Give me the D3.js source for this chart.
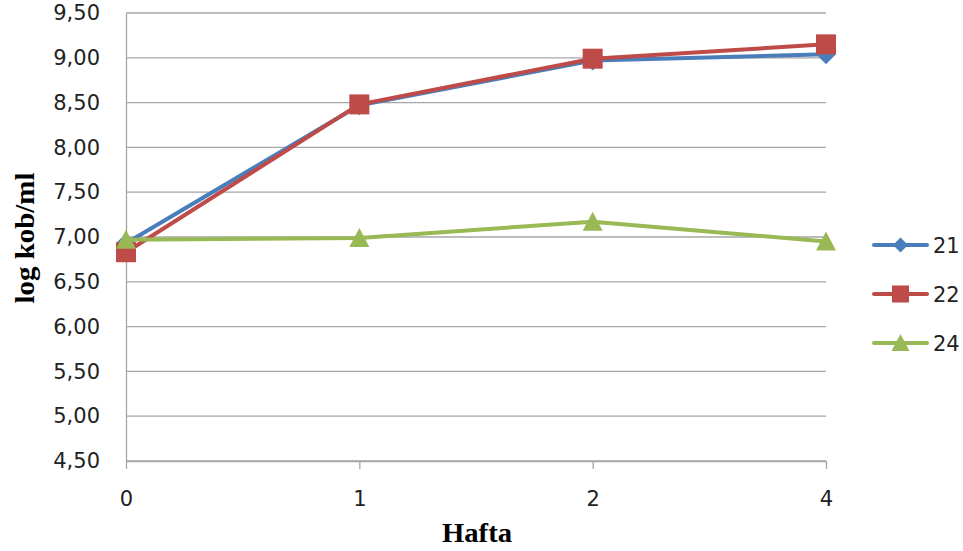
<!DOCTYPE html>
<html>
<head>
<meta charset="utf-8">
<script src="https://cdn.jsdelivr.net/npm/d3@7"></script>
<style>
  html, body { margin: 0; padding: 0; background: #fff; }
  svg { display: block; }
</style>
</head>
<body>
<svg id="chart" width="963" height="551"></svg>
<script>
// ---- data ----
const categories = ["0", "1", "2", "4"];
const seriesNames = ["21", "22", "24"];
const values21 = [6.93, 8.47, 8.97, 9.04];
const values22 = [6.83, 8.48, 8.99, 9.15];
const values24 = [6.97, 6.99, 7.17, 6.95];
const yTicks = [4.5, 5.0, 5.5, 6.0, 6.5, 7.0, 7.5, 8.0, 8.5, 9.0, 9.5];
const xTitle = "Hafta";
const yTitle = "log kob/ml";

const colors = ["#4a7ebb", "#be4b48", "#98b954"];
const markers = ["diamond", "square", "triangle"];
const seriesValues = [values21, values22, values24];

const svg = d3.select("#chart");
const plotLeft = 126, plotRight = 826, plotTop = 13, plotBottom = 461;

const x = d3.scalePoint().domain(categories).range([plotLeft, plotRight]).padding(0);
const y = d3.scaleLinear().domain([4.5, 9.5]).range([plotBottom, plotTop]);

const fmt = v => d3.format(".2f")(v).replace(".", ",");
const labelFont = "'DejaVu Sans', sans-serif";
const gridColor = "#a6a6a6";

// gridlines
svg.append("g")
  .selectAll("line")
  .data(yTicks)
  .join("line")
  .attr("x1", plotLeft).attr("x2", plotRight)
  .attr("y1", d => y(d)).attr("y2", d => y(d))
  .attr("stroke", gridColor).attr("stroke-width", 1.3);

// y axis
const yAxis = d3.axisLeft(y).tickValues(yTicks).tickFormat(fmt).tickSize(0).tickPadding(26);
const gy = svg.append("g").attr("transform", `translate(${plotLeft},0)`).call(yAxis);
gy.select(".domain").attr("stroke", gridColor).attr("stroke-width", 1.3);
gy.selectAll("text").attr("font-family", labelFont).attr("font-size", 21).attr("fill", "#222");

// x axis
const xAxis = d3.axisBottom(x).tickSize(8).tickPadding(22);
const gx = svg.append("g").attr("transform", `translate(0,${plotBottom})`).call(xAxis);
gx.select(".domain").attr("stroke", gridColor).attr("stroke-width", 1.3).attr("d", `M${plotLeft},0.5H${plotRight}`);
gx.selectAll(".tick line").attr("stroke", gridColor).attr("stroke-width", 1.3);
gx.selectAll("text").attr("font-family", labelFont).attr("font-size", 21).attr("fill", "#222");

// axis titles
svg.append("text")
  .attr("transform", `translate(34,238) rotate(-90)`)
  .attr("text-anchor", "middle")
  .attr("font-family", "'Liberation Serif', serif")
  .attr("font-weight", "bold")
  .attr("font-size", 27)
  .attr("textLength", 131)
  .attr("lengthAdjust", "spacingAndGlyphs")
  .text(yTitle);

svg.append("text")
  .attr("x", 477).attr("y", 542)
  .attr("text-anchor", "middle")
  .attr("font-family", "'Liberation Serif', serif")
  .attr("font-weight", "bold")
  .attr("font-size", 27)
  .attr("textLength", 70)
  .attr("lengthAdjust", "spacingAndGlyphs")
  .text(xTitle);

// marker drawing
function drawMarker(g, type, cx, cy, size, color) {
  const h = size / 2;
  if (type === "diamond") {
    g.append("path").attr("d", `M${cx},${cy - h}L${cx + h},${cy}L${cx},${cy + h}L${cx - h},${cy}Z`).attr("fill", color);
  } else if (type === "square") {
    g.append("rect").attr("x", cx - h).attr("y", cy - h).attr("width", size).attr("height", size).attr("fill", color);
  } else {
    g.append("path").attr("d", `M${cx},${cy - h}L${cx + h},${cy + h * 0.9}L${cx - h},${cy + h * 0.9}Z`).attr("fill", color);
  }
}

const line = d3.line().x((d, i) => x(categories[i])).y(d => y(d));

seriesValues.forEach((vals, s) => {
  const g = svg.append("g");
  g.append("path").datum(vals).attr("d", line)
    .attr("fill", "none").attr("stroke", colors[s]).attr("stroke-width", 4)
    .attr("stroke-linejoin", "round");
  vals.forEach((v, i) => drawMarker(g, markers[s], x(categories[i]), y(v), 20, colors[s]));
});

// legend
const legendY = [245, 294, 343];
seriesNames.forEach((name, s) => {
  const g = svg.append("g");
  g.append("line").attr("x1", 874).attr("x2", 927).attr("y1", legendY[s]).attr("y2", legendY[s])
    .attr("stroke", colors[s]).attr("stroke-width", 4).attr("stroke-linecap", "round");
  const sz = markers[s] === "diamond" ? 15 : (markers[s] === "square" ? 17 : 18);
  drawMarker(g, markers[s], 900.5, legendY[s], sz, colors[s]);
  g.append("text").attr("x", 933).attr("y", legendY[s] + 8)
    .attr("font-family", labelFont).attr("font-size", 21).attr("fill", "#222")
    .text(name);
});
</script>
</body>
</html>
